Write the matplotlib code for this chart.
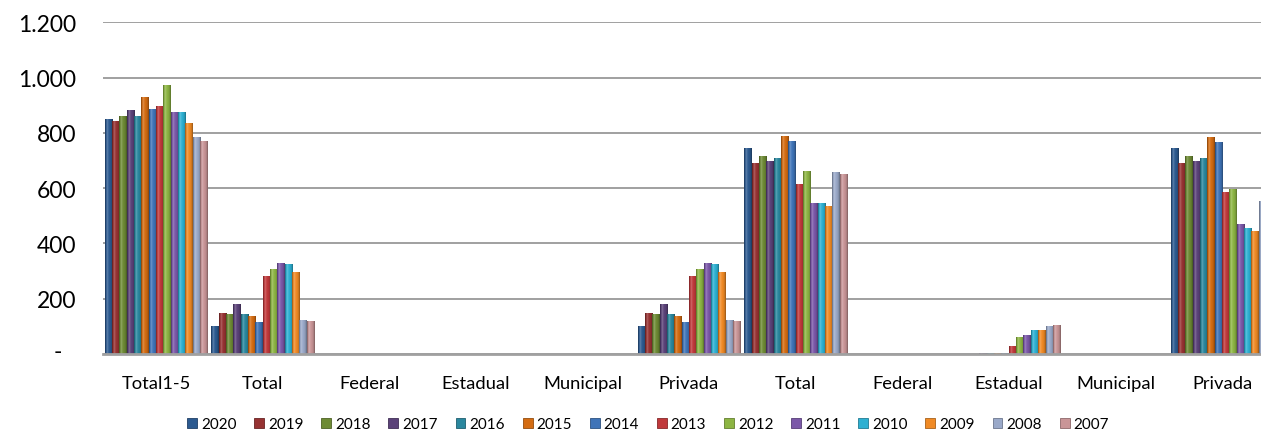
import matplotlib
matplotlib.use("Agg")
import matplotlib.pyplot as plt
import matplotlib.transforms as mtrans
from matplotlib.patches import Patch
import matplotlib.colors as mcolors
import numpy as np

plt.rcParams['font.family'] = ['Lato', 'DejaVu Sans']

categories = ['Total1-5', 'Total', 'Federal', 'Estadual', 'Municipal', 'Privada',
              'Total', 'Federal', 'Estadual', 'Municipal', 'Privada']
years = ['2020', '2019', '2018', '2017', '2016', '2015', '2014',
         '2013', '2012', '2011', '2010', '2009', '2008', '2007']

# values per category, ordered by year (2020 ... 2007)
total_1_5    = [849, 843, 863, 882, 861, 929, 885, 896, 972, 876, 876, 836, 784, 769]
g1_total     = [101, 149, 144, 181, 144, 138, 116, 283, 308, 330, 326, 297, 123, 120]
g1_federal   = [0, 0, 0, 0, 0, 0, 0, 0, 0, 0, 0, 0, 0, 0]
g1_estadual  = [0, 0, 0, 0, 0, 0, 0, 0, 0, 0, 0, 0, 0, 0]
g1_municipal = [0, 0, 0, 0, 0, 0, 0, 0, 0, 0, 0, 0, 0, 0]
g1_privada   = [101, 149, 144, 181, 144, 138, 116, 283, 308, 330, 326, 297, 123, 120]
g2_total     = [744, 690, 715, 700, 711, 790, 769, 614, 661, 545, 545, 537, 657, 650]
g2_federal   = [0, 0, 0, 0, 0, 0, 0, 0, 0, 0, 0, 0, 0, 0]
g2_estadual  = [0, 0, 0, 3, 3, 3, 4, 28, 62, 69, 86, 86, 100, 105]
g2_municipal = [0, 0, 0, 0, 0, 0, 0, 0, 0, 0, 0, 0, 0, 0]
g2_privada   = [744, 690, 715, 697, 709, 786, 766, 585, 597, 471, 455, 446, 552, 545]

groups = [total_1_5, g1_total, g1_federal, g1_estadual, g1_municipal, g1_privada,
          g2_total, g2_federal, g2_estadual, g2_municipal, g2_privada]

yticks = [0, 200, 400, 600, 800, 1000, 1200]
ytick_labels = ['-', '200', '400', '600', '800', '1.000', '1.200']

colors = ['#2C5A90', '#963232', '#6E8B35', '#5B4279', '#2A879E', '#D46C12', '#3F74B8',
          '#C0393B', '#8DB543', '#7B58A8', '#2DB0D2', '#F08A25', '#9AA9C9', '#C99597']

values = np.array(groups).T  # shape (years, categories)

W, H = 1261, 439
fig = plt.figure(figsize=(W / 100, H / 100), dpi=100)
left_px, axw_px = 102.7, 1172.6
bottom_px, top_px = 355, 23.4
ax = fig.add_axes([left_px / W, (H - bottom_px) / H, axw_px / W, (bottom_px - top_px) / H])

n = len(years)
x = np.arange(len(categories))
bw = 0.965 / n

profile = np.array([0.62, 0.80, 0.95, 1.06, 1.12, 1.09, 1.05, 1.02, 1.0, 0.98,
                    0.96, 0.93, 0.89, 0.84, 0.76, 0.62])


def shade(c, f):
    c = np.array(mcolors.to_rgb(c))
    if f >= 1:
        return c + (1 - c) * (f - 1) * 2.0
    return c * f


for j, yr in enumerate(years):
    offs = (j - (n - 1) / 2) * bw
    bars = ax.bar(x + offs, values[j], width=bw, color=colors[j], zorder=2,
                  linewidth=0)
    grad = np.array([shade(colors[j], f) for f in profile])[np.newaxis, :, :]
    for p in bars.patches:
        h = p.get_height()
        if h <= 0:
            continue
        x0 = p.get_x()
        im = ax.imshow(grad, extent=[x0, x0 + p.get_width(), 0, h], aspect='auto',
                       zorder=3, interpolation='bilinear')
        im.set_clip_path(p)

ax.set_xlim(-0.5, len(categories) - 0.5)
ax.set_ylim(0, 1200)
ax.set_yticks(yticks)
ax.set_yticklabels(ytick_labels)
ax.set_xticks(x)
ax.set_xticklabels(categories)
ax.yaxis.grid(True, color='#A0A0A0', linewidth=1.4, zorder=1)
ax.set_axisbelow(True)
for s in ['top', 'right', 'left']:
    ax.spines[s].set_visible(False)
ax.spines['bottom'].set_color('#A0A0A0')
ax.spines['bottom'].set_linewidth(2.0)
ax.spines['bottom'].set_zorder(4)
ax.tick_params(axis='both', length=0)
ax.tick_params(axis='y', labelsize=16.5, pad=19, labelcolor='#000000')
ax.tick_params(axis='x', labelsize=13.2, pad=15, labelcolor='#000000')

# shift the "-" label to the left like accounting format
zero_lbl = ax.get_yticklabels()[0]
zero_lbl.set_transform(zero_lbl.get_transform() +
                       mtrans.ScaledTranslation(-0.14, 0.04, fig.dpi_scale_trans))

handles = [Patch(facecolor=colors[j], edgecolor=shade(colors[j], 0.7), linewidth=0.6)
           for j in range(n)]
fig.legend(handles, years, loc='center', bbox_to_anchor=(648 / W, (H - 425) / H),
           ncol=n, frameon=False, fontsize=11, handlelength=0.65, handleheight=0.65,
           handletextpad=0.25, columnspacing=1.17, borderaxespad=0)

fig.savefig('out.png', dpi=100)
